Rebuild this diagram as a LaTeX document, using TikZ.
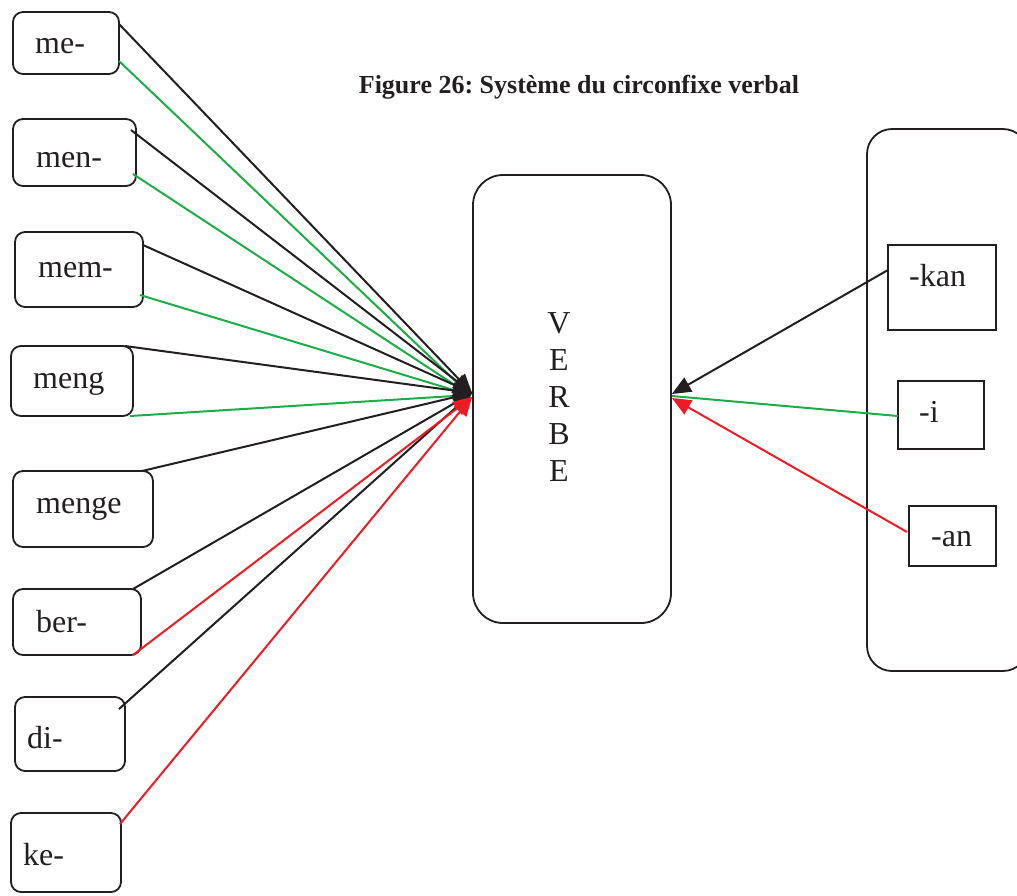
\documentclass[tikz,border=0pt]{standalone}
\usepackage{fontspec}
\setmainfont{Liberation Serif}
\usetikzlibrary{arrows.meta,calc}
\definecolor{lgreen}{RGB}{30,172,72}
\definecolor{lred}{RGB}{237,28,36}
\definecolor{lblack}{RGB}{35,31,32}
\frenchspacing
\begin{document}
\begin{tikzpicture}[x=1pt,y=-1pt,
  rbox/.style={draw=lblack,line width=1.8pt,rounded corners=10pt,inner sep=0pt},
  sbox/.style={draw=lblack,line width=1.8pt,inner sep=0pt},
  lab/.style={anchor=base west,inner sep=0pt,text=lblack,font=\fontsize{32}{36}\selectfont},
  blk/.style={draw=lblack,line width=2pt,-{Triangle[length=19pt,width=16pt]}},
  grn/.style={draw=lgreen,line width=2pt},
  rd/.style={draw=lred,line width=2pt,-{Triangle[length=19pt,width=16pt]}}]
\useasboundingbox (0,0) rectangle (1017,895);

% caption
\node[anchor=base,inner sep=0pt,text=lblack,font=\bfseries\fontsize{26}{30}\selectfont] (cap) at (579,93) {Figure 26: Système du circonfixe verbal};

% prefix boxes
\node[rbox,minimum width=106pt,minimum height=62pt] (me) at (66,43) {};
\node[rbox,minimum width=123pt,minimum height=67pt] (men) at (74.5,152.5) {};
\node[rbox,minimum width=128pt,minimum height=75pt] (mem) at (79,269.5) {};
\node[rbox,minimum width=122pt,minimum height=70pt] (meng) at (72,381) {};
\node[rbox,minimum width=140pt,minimum height=76pt] (menge) at (83,509) {};
\node[rbox,minimum width=128pt,minimum height=66pt] (ber) at (77,622) {};
\node[rbox,minimum width=110pt,minimum height=74pt] (di) at (70,734) {};
\node[rbox,minimum width=110pt,minimum height=79pt] (ke) at (66,852.5) {};

\node[lab] (tme) at (35,53) {me-};
\node[lab] (tmen) at (36,167) {men-};
\node[lab] (tmem) at (38,277) {mem-};
\node[lab] (tmeng) at (33,388) {meng};
\node[lab] (tmenge) at (36,513) {menge};
\node[lab] (tber) at (36,632) {ber-};
\node[lab] (tdi) at (27,748) {di-};
\node[lab] (tke) at (23,865) {ke-};

% verb box
\node[rbox,rounded corners=30pt,minimum width=198pt,minimum height=448pt] (verbe) at (572,399) {};
\foreach \l [count=\i] in {V,E,R,B,E}
  \node[anchor=base,inner sep=0pt,text=lblack,font=\fontsize{32}{36}\selectfont] (vl\i) at (559,{333+37.2*(\i-1)}) {\l};

% suffix group
\node[rbox,rounded corners=25pt,minimum width=161pt,minimum height=542pt] (grp) at (947.5,400) {};
\node[sbox,minimum width=108pt,minimum height=85pt] (kan) at (942,287.5) {};
\node[sbox,minimum width=86pt,minimum height=68pt] (i) at (941,415) {};
\node[sbox,minimum width=87pt,minimum height=60pt] (an) at (952.5,536) {};
\node[lab] (tkan) at (909,286) {-kan};
\node[lab] (ti) at (919,422) {-i};
\node[lab] (tan) at (931,546) {-an};

% end points
\coordinate (tipLb) at ($(verbe.west)+(0,-6)$);
\coordinate (tipLg) at ($(verbe.west)+(-2,-4)$);
\coordinate (tipLr) at ($(verbe.west)+(0,-2)$);
\coordinate (tipRb) at ($(verbe.east)+(0,-5)$);
\coordinate (tipRg) at ($(verbe.east)+(0,-3)$);
\coordinate (tipRr) at ($(verbe.east)+(0,-1)$);

\coordinate (me-b) at (119,24);   \coordinate (me-g) at (119,61);
\coordinate (men-b) at (131,130); \coordinate (men-g) at (133,174);
\coordinate (mem-b) at (143,245); \coordinate (mem-g) at (140,295);
\coordinate (meng-b) at (125,346);\coordinate (meng-g) at (130,416);
\coordinate (menge-b) at (142,471);
\coordinate (ber-b) at (133,589); \coordinate (ber-r) at (133,655);
\coordinate (di-b) at (119,709);
\coordinate (ke-r) at (120,824);
\coordinate (kan-b) at (888,270);
\coordinate (i-g) at (898,416);
\coordinate (an-r) at (907,532);

% green
\foreach \s in {me-g,men-g,mem-g,meng-g} \draw[grn] (\s) -- (tipLg);
\draw[grn] (i-g) -- (tipRg);
% black
\foreach \s in {me-b,men-b,mem-b,meng-b,menge-b,ber-b,di-b} \draw[blk] (\s) -- (tipLb);
\draw[blk] (kan-b) -- (tipRb);
% red
\foreach \s in {ber-r,ke-r} \draw[rd] (\s) -- (tipLr);
\draw[rd] (an-r) -- (tipRr);
\end{tikzpicture}
\end{document}
